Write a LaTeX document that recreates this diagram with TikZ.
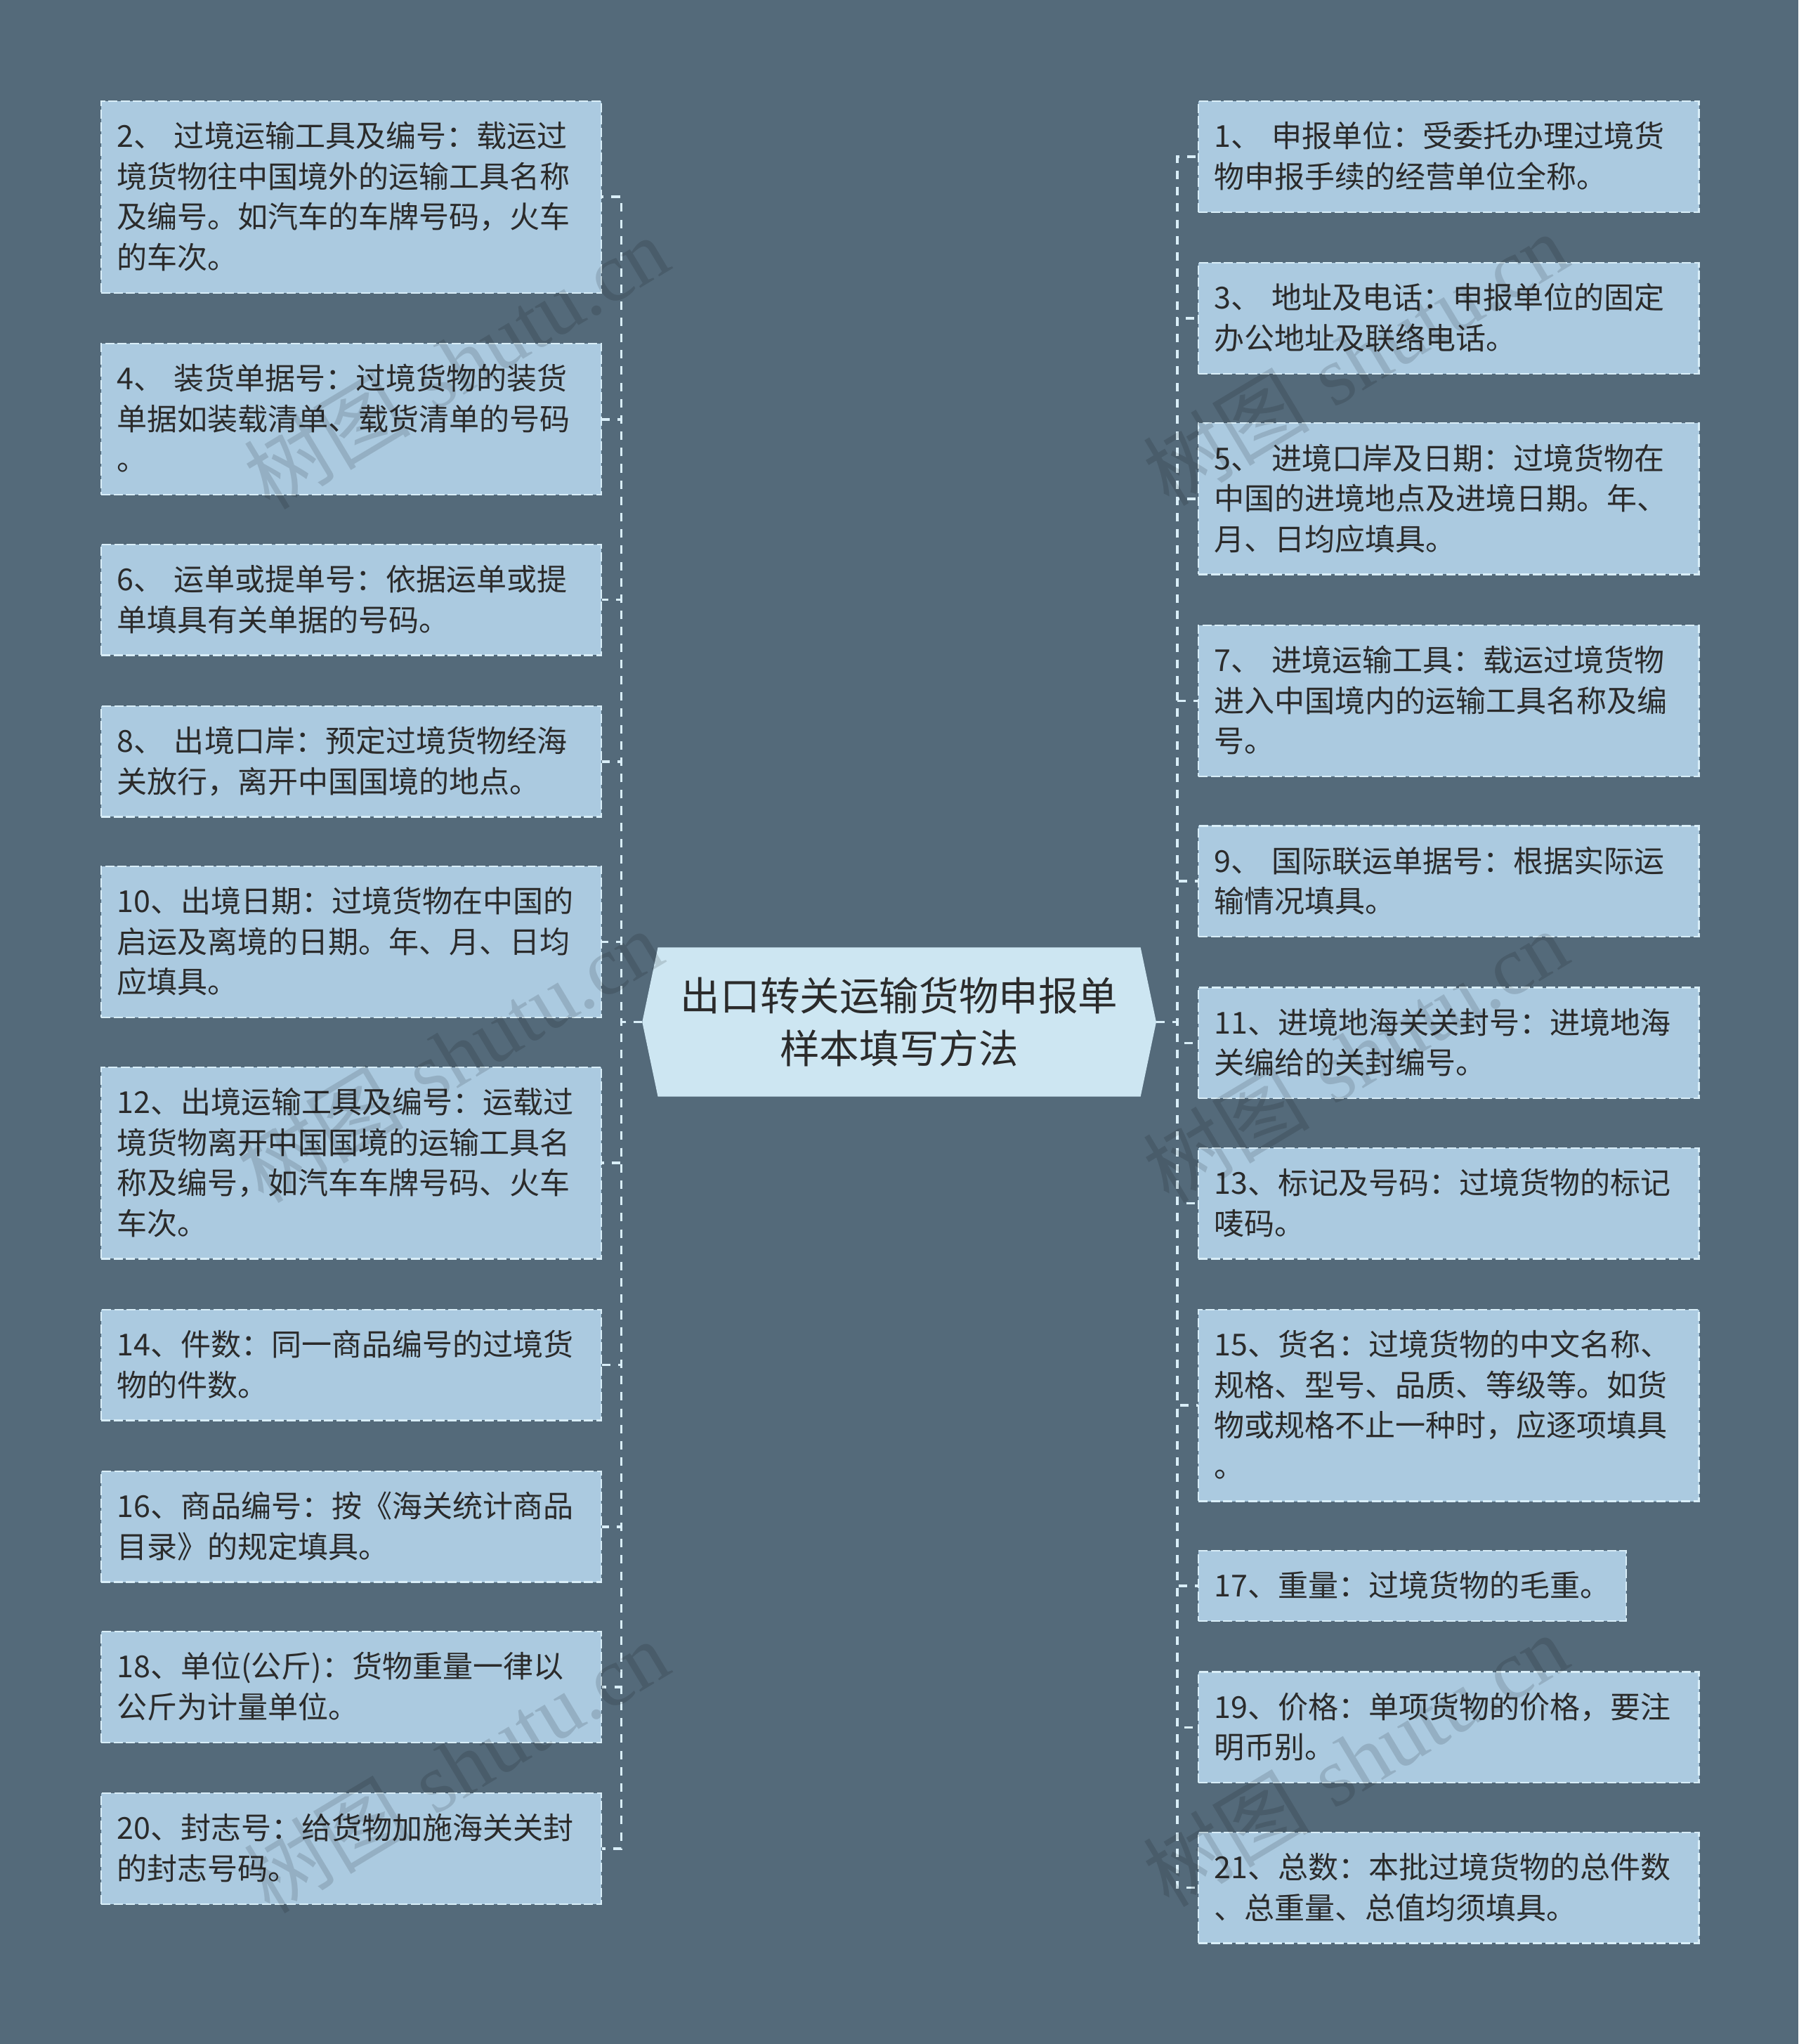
\documentclass[tikz,border=0pt]{standalone}
\usepackage{fontspec}
\newfontfamily\cjk{Noto Sans CJK SC}
\newfontfamily\wmserif{Liberation Serif}
\definecolor{bg}{HTML}{546A7A}
\definecolor{boxfill}{HTML}{ABCAE0}
\definecolor{cfill}{HTML}{CDE6F2}
\definecolor{lineclr}{HTML}{D9EEF8}
\definecolor{txt}{HTML}{2B2B2B}
\newcommand\bt[1]{\rule{0pt}{35.5pt}#1\rule[-18.5pt]{0pt}{18.5pt}}
\newcommand\gapsp{\kern8pt}
\pgfdeclarelayer{back}
\pgfsetlayers{back,main}
\tikzset{
  item/.style={draw=lineclr, fill=boxfill, line width=1.2pt, dash pattern=on 7pt off 2.5pt,
    anchor=north west, inner xsep=12pt, inner ysep=0pt, text width=360pt, align=left,
    font=\cjk\fontsize{23.2pt}{31pt}\selectfont, text=txt},
  narrow/.style={text width=304pt},
  conn/.style={draw=lineclr, line width=2pt, dash pattern=on 6.5pt off 6pt},
  cbox/.style={minimum width=394pt, minimum height=114pt, inner sep=0pt, align=center,
    font=\cjk\fontsize{30.5pt}{40pt}\selectfont, text=txt},
  wm/.style={text=black, opacity=0.13, rotate=31, font=\fontsize{64pt}{70pt}\selectfont, inner sep=0pt}
}
\begin{document}
\begin{tikzpicture}[x=1pt,y=-1pt]
\useasboundingbox (0,0) rectangle (1380,1568);
\begin{pgfonlayer}{back}
\fill[bg] (0,0) rectangle (1380,1568);
\end{pgfonlayer}

% center
\node[cbox] (C) at (690,784) {出口转关运输货物申报单\\样本填写方法};
\begin{pgfonlayer}{back}
\fill[cfill] ([xshift=12pt]C.north west) -- ([xshift=-12pt]C.north east) -- (C.east)
  -- ([xshift=-12pt]C.south east) -- ([xshift=12pt]C.south west) -- (C.west) -- cycle;
\end{pgfonlayer}

% left items
\node[item] (L2) at (77,77) {\bt{2、\gapsp 过境运输工具及编号：载运过\\境货物往中国境外的运输工具名称\\及编号。如汽车的车牌号码，火车\\的车次。}};
\node[item] (L4) at (77,263) {\bt{4、\gapsp 装货单据号：过境货物的装货\\单据如装载清单、载货清单的号码\\。}};
\node[item] (L6) at (77,417) {\bt{6、\gapsp 运单或提单号：依据运单或提\\单填具有关单据的号码。}};
\node[item] (L8) at (77,541) {\bt{8、\gapsp 出境口岸：预定过境货物经海\\关放行，离开中国国境的地点。}};
\node[item] (L10) at (77,664) {\bt{10、出境日期：过境货物在中国的\\启运及离境的日期。年、月、日均\\应填具。}};
\node[item] (L12) at (77,818) {\bt{12、出境运输工具及编号：运载过\\境货物离开中国国境的运输工具名\\称及编号，如汽车车牌号码、火车\\车次。}};
\node[item] (L14) at (77,1004) {\bt{14、件数：同一商品编号的过境货\\物的件数。}};
\node[item] (L16) at (77,1128) {\bt{16、商品编号：按《海关统计商品\\目录》的规定填具。}};
\node[item] (L18) at (77,1251) {\bt{18、单位(公斤)：货物重量一律以\\公斤为计量单位。}};
\node[item] (L20) at (77,1375) {\bt{20、封志号：给货物加施海关关封\\的封志号码。}};

% right items
\node[item] (R1) at (919,77) {\bt{1、\gapsp 申报单位：受委托办理过境货\\物申报手续的经营单位全称。}};
\node[item] (R3) at (919,201) {\bt{3、\gapsp 地址及电话：申报单位的固定\\办公地址及联络电话。}};
\node[item] (R5) at (919,324) {\bt{5、\gapsp 进境口岸及日期：过境货物在\\中国的进境地点及进境日期。年、\\月、日均应填具。}};
\node[item] (R7) at (919,479) {\bt{7、\gapsp 进境运输工具：载运过境货物\\进入中国境内的运输工具名称及编\\号。}};
\node[item] (R9) at (919,633) {\bt{9、\gapsp 国际联运单据号：根据实际运\\输情况填具。}};
\node[item] (R11) at (919,757) {\bt{11、进境地海关关封号：进境地海\\关编给的关封编号。}};
\node[item] (R13) at (919,880) {\bt{13、标记及号码：过境货物的标记\\唛码。}};
\node[item] (R15) at (919,1004) {\bt{15、货名：过境货物的中文名称、\\规格、型号、品质、等级等。如货\\物或规格不止一种时，应逐项填具\\。}};
\node[item,narrow] (R17) at (919,1189) {\bt{17、重量：过境货物的毛重。}};
\node[item] (R19) at (919,1282) {\bt{19、价格：单项货物的价格，要注\\明币别。}};
\node[item] (R21) at (919,1405) {\bt{21、总数：本批过境货物的总件数\\、总重量、总值均须填具。}};

% connectors
\foreach \n in {L2,L4,L6,L8,L10,L12,L14,L16,L18,L20}
  \draw[conn] (C.west) -- ++(-16,0) |- (\n.east);
\foreach \n in {R1,R3,R5,R7,R9,R11,R13,R15,R17,R19,R21}
  \draw[conn] (C.east) -- ++(16,0) |- (\n.west);

% watermarks
\node[wm] (w1) at (350,278) {{\cjk 树图} {\wmserif shutu.cn}};
\node[wm] (w2) at (1040,275) {{\cjk 树图} {\wmserif shutu.cn}};
\node[wm] (w3) at (345,810) {{\cjk 树图} {\wmserif shutu.cn}};
\node[wm] (w4) at (1040,810) {{\cjk 树图} {\wmserif shutu.cn}};
\node[wm] (w5) at (350,1355) {{\cjk 树图} {\wmserif shutu.cn}};
\node[wm] (w6) at (1040,1350) {{\cjk 树图} {\wmserif shutu.cn}};
\end{tikzpicture}
\end{document}
